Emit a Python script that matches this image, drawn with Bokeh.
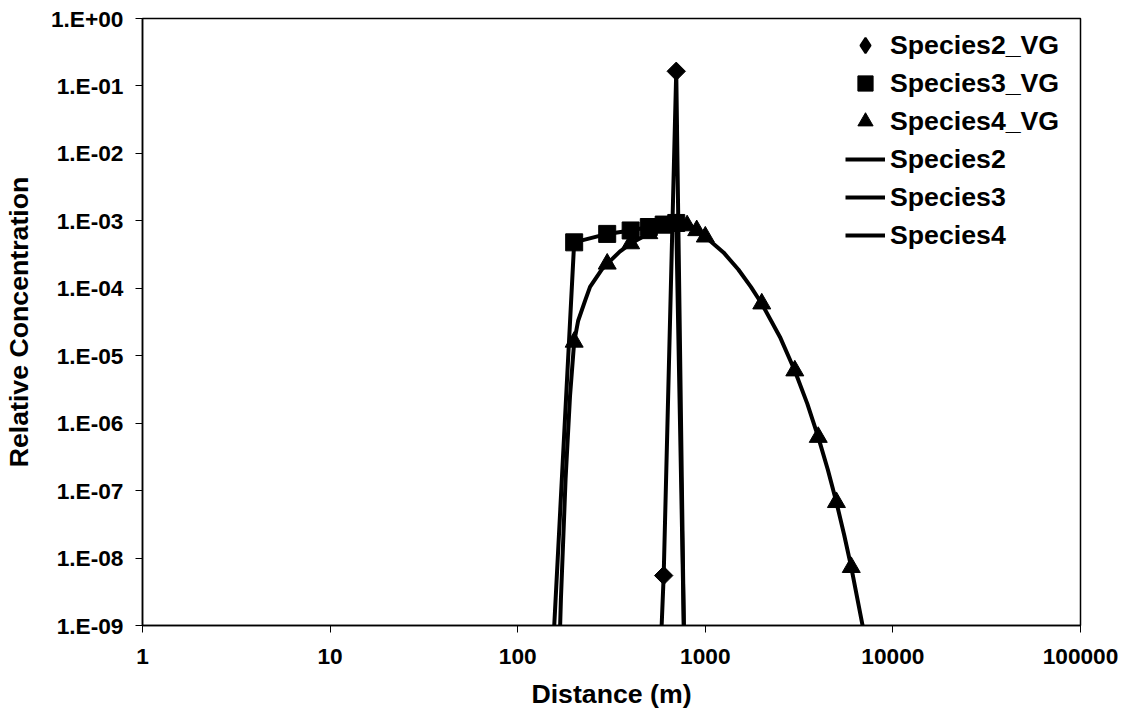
import math
from bokeh.plotting import figure
from bokeh.models import Range1d, FixedTicker, CustomJSTickFormatter, Legend, LegendItem
from bokeh.embed import file_html
from bokeh.resources import INLINE

# ---- axes / ticks ----
x_ticks = [1, 10, 100, 1000, 10000, 100000]
x_tick_labels = ["1", "10", "100", "1000", "10000", "100000"]
y_ticks = [1e-9, 1e-8, 1e-7, 1e-6, 1e-5, 1e-4, 1e-3, 1e-2, 1e-1, 1.0]
y_tick_labels = ["1.E-09", "1.E-08", "1.E-07", "1.E-06", "1.E-05",
                 "1.E-04", "1.E-03", "1.E-02", "1.E-01", "1.E+00"]

# ---- marker series (VG) ----
sp2_vg_x = [600, 700]
sp2_vg_y = [5.5e-9, 0.165]
sp3_vg_x = [200, 300, 400, 500, 600, 700]
sp3_vg_y = [4.8e-4, 6.4e-4, 7.2e-4, 8.1e-4, 8.8e-4, 9.3e-4]
sp4_vg_x = [200, 300, 400, 500, 600, 700, 800, 900, 1000, 2000, 3000, 4000, 5000, 6000]
sp4_vg_y = [1.6e-5, 2.3e-4, 4.6e-4, 6.5e-4, 7.9e-4, 8.9e-4, 8.5e-4, 7.2e-4, 5.8e-4,
            5.9e-5, 6.0e-6, 6.2e-7, 6.7e-8, 7.3e-9]

# ---- line series ----
sp2_x = [500, 600, 700, 800, 900]
sp2_y = [2e-14, 5.5e-9, 0.165, 2.5e-13, 1e-20]
sp3_x = [150, 200, 300, 400, 500, 600, 700, 800]
sp3_y = [1e-10, 4.8e-4, 6.4e-4, 7.2e-4, 8.1e-4, 8.8e-4, 9.3e-4, 2.5e-12]
sp4_x = [165, 170, 180, 190, 200, 210, 229, 243, 281, 300, 350, 400, 500, 600, 700,
         800, 900, 1000, 1250, 1500, 1750, 2000, 2500, 3000, 3500, 4000, 4500, 5000,
         5500, 6000, 7000, 8000]
sp4_y = [1.5e-10, 2.5e-9, 1.5e-7, 2.5e-6, 1.6e-5, 3.3e-5, 6.6e-5, 1.05e-4, 1.9e-4, 2.3e-4,
         3.5e-4, 4.6e-4, 6.5e-4, 7.9e-4, 8.9e-4, 8.5e-4, 7.2e-4, 5.8e-4, 3.4e-4, 1.9e-4,
         1.05e-4, 5.9e-5, 1.9e-5, 6.0e-6, 1.93e-6, 6.2e-7, 2.04e-7, 6.7e-8, 2.2e-8, 7.3e-9,
         8e-10, 5e-11]

FONT = "Liberation Sans"

FMT_CODE = """
let best = 0, bd = Infinity;
for (let i = 0; i < tvals.length; i++) {
  const d = Math.abs(Math.log10(tvals[i]) - Math.log10(tick));
  if (d < bd) { bd = d; best = i; }
}
return tlabels[best];
"""

p = figure(width=1133, height=723, x_axis_type="log", y_axis_type="log",
           x_range=Range1d(1, 100000), y_range=Range1d(1e-9, 1),
           output_backend="svg", toolbar_location=None,
           min_border_left=139, min_border_right=53, min_border_top=18, min_border_bottom=98)
p.background_fill_color = "white"
p.border_fill_color = "white"
p.outline_line_color = "black"
p.outline_line_width = 1.5
p.xgrid.visible = False
p.ygrid.visible = False

p.xaxis.ticker = FixedTicker(ticks=x_ticks, minor_ticks=[])
p.yaxis.ticker = FixedTicker(ticks=y_ticks, minor_ticks=[])
p.xaxis.formatter = CustomJSTickFormatter(args=dict(tvals=x_ticks, tlabels=x_tick_labels), code=FMT_CODE)
p.yaxis.formatter = CustomJSTickFormatter(args=dict(tvals=y_ticks, tlabels=y_tick_labels), code=FMT_CODE)

for ax in (p.xaxis, p.yaxis):
    ax.axis_line_color = "black"
    ax.axis_line_width = 1.5
    ax.major_tick_line_color = "black"
    ax.major_tick_line_width = 1
    ax.major_tick_out = 7
    ax.major_tick_in = 0
    ax.minor_tick_line_color = None
    ax.major_label_text_font = FONT
    ax.major_label_text_font_style = "bold"
    ax.major_label_text_font_size = "22.7px"
    ax.major_label_text_color = "black"
    ax.axis_label_text_font = FONT
    ax.axis_label_text_font_style = "bold"
    ax.axis_label_text_font_size = "26.7px"
    ax.axis_label_text_color = "black"

p.xaxis.axis_label = "Distance (m)"
p.yaxis.axis_label = "Relative Concentration"
p.xaxis.major_label_standoff = 16
p.yaxis.major_label_standoff = 12
p.xaxis.axis_label_standoff = 12
p.yaxis.axis_label_standoff = 14

# lines
r_l2 = p.line(sp2_x, sp2_y, line_color="black", line_width=4)
r_l3 = p.line(sp3_x, sp3_y, line_color="black", line_width=4)
r_l4 = p.line(sp4_x, sp4_y, line_color="black", line_width=4)

# markers (diamond series: narrow diamond underneath, used as its legend glyph)
r_m2_leg = p.scatter(sp2_vg_x, sp2_vg_y, marker="diamond", size=12,
                     fill_color="black", line_color="black", line_width=2)
r_m2 = p.scatter(sp2_vg_x, sp2_vg_y, marker="square", angle=math.pi / 4, size=13,
                 fill_color="black", line_color="black")
r_m3 = p.scatter(sp3_vg_x, sp3_vg_y, marker="square", size=17,
                 fill_color="black", line_color="black")
r_m4 = p.scatter(sp4_vg_x, sp4_vg_y, marker="triangle", size=18,
                 fill_color="black", line_color="black")

legend = Legend(items=[
    LegendItem(label="Species2_VG", renderers=[r_m2_leg]),
    LegendItem(label="Species3_VG", renderers=[r_m3]),
    LegendItem(label="Species4_VG", renderers=[r_m4]),
    LegendItem(label="Species2", renderers=[r_l2]),
    LegendItem(label="Species3", renderers=[r_l3]),
    LegendItem(label="Species4", renderers=[r_l4]),
], location=(699, 367))
legend.glyph_width = 40
legend.glyph_height = 38
legend.spacing = 0
legend.padding = 4
legend.margin = 0
legend.label_standoff = 5
legend.label_height = 30
legend.label_text_font = FONT
legend.label_text_font_style = "bold"
legend.label_text_font_size = "26.7px"
legend.label_text_color = "black"
legend.border_line_alpha = 0
legend.background_fill_alpha = 0
p.add_layout(legend, "center")

open("out.html", "w").write(file_html(p, INLINE))
